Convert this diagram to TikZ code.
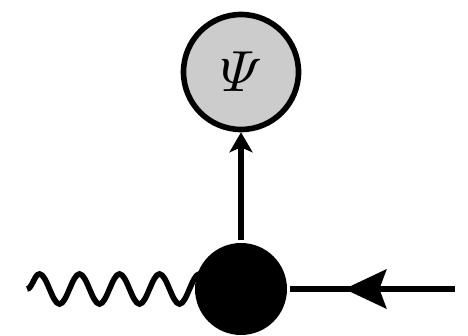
\documentclass[tikz,border=0pt]{standalone}
\usepackage{amsmath,amssymb}
\definecolor{blobgray}{RGB}{204,204,204}
\usetikzlibrary{arrows.meta,positioning,decorations.pathmorphing,decorations.markings,backgrounds}

\begin{document}
\begin{tikzpicture}[line width=3.2pt,
    blob/.style={circle, draw, fill=blobgray, minimum size=2.3cm, inner sep=0pt},
    vertex/.style={circle, fill=black, minimum size=1.84cm, inner sep=0pt},
    photon/.style={line width=3.2pt, decorate, decoration={snake, amplitude=0.3cm, segment length=0.8cm}},
    fermion/.style={postaction={decorate}, decoration={markings,
        mark=at position 0.67 with {\arrow{Stealth[length=0.84cm, width=0.78cm, inset=0.14cm]}}}}]
        \useasboundingbox (0,0) rectangle (9.36,6.7);
        % Blob and vertex
        \node[vertex] (dot) at (4.82,0.92) {};
        \node[blob] (psi) at (4.82,5.26) {\scalebox{3.3}{$\varPsi$}};
        % Outgoing line
        \draw[-{Stealth[length=0.4cm, width=0.46cm, inset=0.1cm]}] (dot) -- (psi);
        % Incoming fermion
        \coordinate (fin) at (9.1,0.92);
        \draw[fermion] (fin) -- (dot.east);
        % Photon
        \coordinate (gam) at (0.54,0.92);
        \begin{pgfonlayer}{background}
          \draw[photon] (gam) -- (dot.center);
        \end{pgfonlayer}
      \end{tikzpicture}
\end{document}
